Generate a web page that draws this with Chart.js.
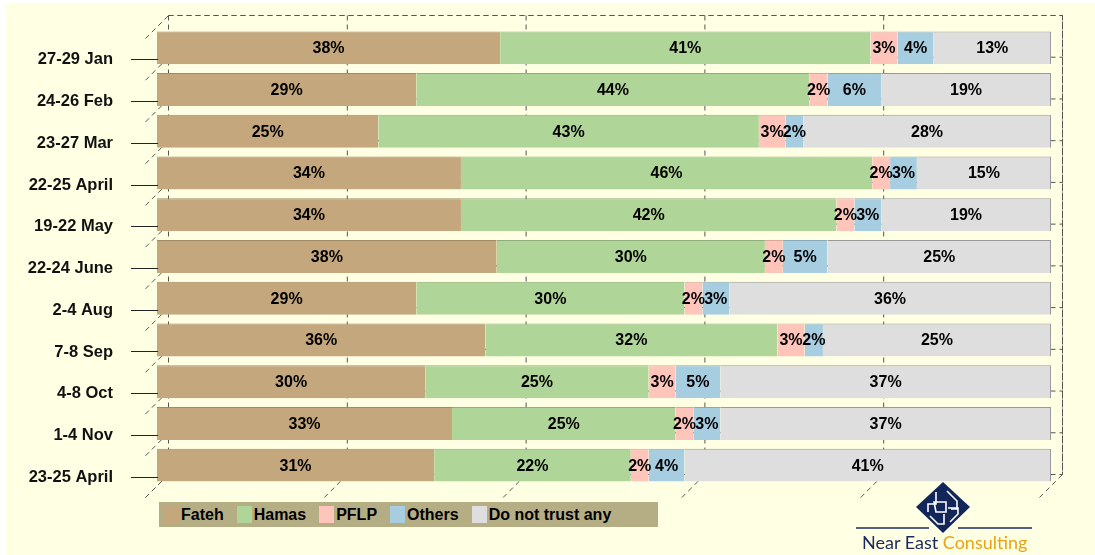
<!DOCTYPE html>
<html lang="en">
<head>
    <meta charset="UTF-8">
    <title>Trust in factions</title>
    <script src="https://cdn.jsdelivr.net/npm/chart.js"></script>
    <style>
        body { margin: 0; background: #fff; font-family: "Liberation Sans", Arial, sans-serif; }
        #panel { position: absolute; left: 6px; top: 3px; width: 1089px; height: 552px; background: #FFFFE4; }
        #wrap { position: absolute; left: 0; top: 0; width: 1095px; height: 555px; }
        #legend { position: absolute; left: 159px; top: 502px; width: 499px; height: 25px; background: #B5AE85;
                  display: flex; align-items: center; font-weight: bold; font-size: 16px; color: #000; }
        #legend .item { display: flex; align-items: center; margin-right: 13px; }
        #legend .item:first-child { margin-left: 5px; }
        #legend .sw { width: 15px; height: 17px; margin-right: 2px; }
        #logo { position: absolute; left: 850px; top: 478px; }
        #brand { position: absolute; left: 862px; top: 533px; font-family: Lato, "Open Sans", sans-serif;
                 font-size: 18px; line-height: 1; white-space: nowrap; }
        #brand .ne { color: #1B2A5C; }
        #brand .co { color: #E8A317; }
    </style>
</head>
<body>

    <div id="panel"></div>
    <div id="wrap"><canvas id="grafico"></canvas></div>
    <div id="legend"></div>

    <svg id="logo" width="190" height="58">
        <line x1="6" y1="50" x2="79" y2="50" stroke="#1B2A5C" stroke-width="1.5"/>
        <line x1="108" y1="50" x2="182" y2="50" stroke="#1B2A5C" stroke-width="1.5"/>
        <polygon points="93,4 120,29 93,55 66,29" fill="#12265A"/>
        <g fill="none" stroke="#fff" stroke-width="1.6">
            <path d="M86 14 v12 h-8 v8"/>
            <path d="M97 13 l10 10 v8 h-6"/>
            <path d="M80 38 l8 8 h6 v-10"/>
            <path d="M100 44 l8 -8 v-6 h-10"/>
            <path d="M84 24 h12 v10 h-10 z"/>
        </g>
    </svg>
    <div id="brand"><span class="ne">Near East</span> <span class="co">Consulting</span></div>

    <script>
        const periods = ['27-29 Jan', '24-26 Feb', '23-27 Mar', '22-25 April', '19-22 May', '22-24 June',
                         '2-4 Aug', '7-8 Sep', '4-8 Oct', '1-4 Nov', '23-25 April'];
        const fateh   = [38, 29, 25, 34, 34, 38, 29, 36, 30, 33, 31];
        const hamas   = [41, 44, 43, 46, 42, 30, 30, 32, 25, 25, 22];
        const pflp    = [3, 2, 3, 2, 2, 2, 2, 3, 3, 2, 2];
        const others  = [4, 6, 2, 3, 3, 5, 3, 2, 5, 3, 4];
        const noTrust = [13, 19, 28, 15, 19, 25, 36, 25, 37, 37, 41];

        const seriesNames  = ['Fateh', 'Hamas', 'PFLP', 'Others', 'Do not trust any'];
        const seriesValues = [fateh, hamas, pflp, others, noTrust];
        const seriesColors = ['#C4A77C', '#B0D598', '#FFC5BA', '#A6CDE0', '#DEDEDE'];
        const edgeColors   = ['#9E8A66', '#90AE7C', '#D8A69C', '#88A8B8', '#9A9A9A'];
        const gridSteps = [0, 20, 40, 60, 80, 100];

        // 100% stacked: each row scaled to its own total
        const totals = periods.map((p, i) => seriesValues.reduce((s, arr) => s + arr[i], 0));

        const datasets = seriesNames.map((name, k) => ({
            label: name,
            raw: seriesValues[k],
            data: seriesValues[k].map((v, i) => v / totals[i] * 100),
            backgroundColor: seriesColors[k],
            borderColor: edgeColors[k],
            borderWidth: { top: 1, left: 0, bottom: 0, right: k === seriesNames.length - 1 ? 1 : 0 },
            borderSkipped: false,
            barPercentage: 0.79,
            categoryPercentage: 1
        }));

        const depth = 11.5;

        // dashed 3D walls / floor behind the bars
        const frame3d = {
            id: 'frame3d',
            beforeDatasetsDraw(chart) {
                const ctx = chart.ctx, xs = chart.scales.x, ys = chart.scales.y;
                const area = chart.chartArea;
                const left = xs.getPixelForValue(0), right = xs.getPixelForValue(100);
                const top = area.top, bottom = area.bottom;
                ctx.save();
                ctx.strokeStyle = '#555';
                ctx.lineWidth = 1;
                ctx.setLineDash([5, 4]);
                ctx.beginPath();
                // back wall outline
                ctx.moveTo(left + depth, top - depth);
                ctx.lineTo(right + depth, top - depth);
                ctx.lineTo(right + depth, bottom - depth);
                // back wall grid
                gridSteps.forEach(g => {
                    const x = xs.getPixelForValue(g) + depth;
                    ctx.moveTo(x, top - depth);
                    ctx.lineTo(x, bottom - depth);
                });
                // category boundaries: back wall + left wall
                for (let i = 0; i <= periods.length; i++) {
                    const b = ys.getPixelForValue(i - 0.5);
                    ctx.moveTo(left + depth, b - depth);
                    ctx.lineTo(right + depth, b - depth);
                    ctx.moveTo(left - depth, b + depth);
                    ctx.lineTo(left + depth, b - depth);
                }
                // floor
                gridSteps.forEach(g => {
                    const x = xs.getPixelForValue(g);
                    ctx.moveTo(x - depth, bottom + depth);
                    ctx.lineTo(x + depth, bottom - depth);
                });
                ctx.stroke();
                ctx.restore();
            },
            afterDatasetsDraw(chart) {
                const ctx = chart.ctx, ys = chart.scales.y;
                const left = chart.chartArea.left;
                ctx.save();
                ctx.strokeStyle = '#222';
                ctx.lineWidth = 1;
                ctx.beginPath();
                periods.forEach((p, i) => {
                    const y = Math.round(ys.getPixelForValue(i) + depth) + 0.5;
                    ctx.moveTo(left - 26, y);
                    ctx.lineTo(left + 1, y);
                });
                ctx.stroke();

                // value labels
                ctx.fillStyle = '#000';
                ctx.font = 'bold 16px "Liberation Sans", Arial, sans-serif';
                ctx.textAlign = 'center';
                ctx.textBaseline = 'middle';
                chart.data.datasets.forEach((ds, k) => {
                    chart.getDatasetMeta(k).data.forEach((el, i) => {
                        ctx.fillText(ds.raw[i] + '%', (el.x + el.base) / 2, el.y + 1);
                    });
                });
                ctx.restore();
            }
        };

        new Chart(document.getElementById('grafico'), {
            type: 'bar',
            data: { labels: periods, datasets: datasets },
            plugins: [frame3d],
            options: {
                indexAxis: 'y',
                responsive: true,
                maintainAspectRatio: false,
                animation: false,
                layout: { padding: { left: 0, right: 44, top: 27, bottom: 69 } },
                plugins: { legend: { display: false }, tooltip: { enabled: false } },
                scales: {
                    x: { stacked: true, min: 0, max: 100, display: false },
                    y: {
                        stacked: true,
                        grid: { display: false, drawTicks: false },
                        border: { display: false },
                        ticks: {
                            padding: 44,
                            labelOffset: 12,
                            color: '#111',
                            font: { size: 16.5, weight: 'bold', family: '"Liberation Sans", Arial, sans-serif' }
                        },
                        afterFit(s) {
                            s.width = 157;
                            s.paddingTop = 0;
                            s.paddingBottom = 0;
                        }
                    }
                }
            }
        });

        // legend
        const legend = document.getElementById('legend');
        seriesNames.forEach((name, k) => {
            const item = document.createElement('div');
            item.className = 'item';
            item.innerHTML = '<span class="sw" style="background:' + seriesColors[k] + '"></span><span>' + name + '</span>';
            legend.appendChild(item);
        });
    </script>

</body>
</html>
